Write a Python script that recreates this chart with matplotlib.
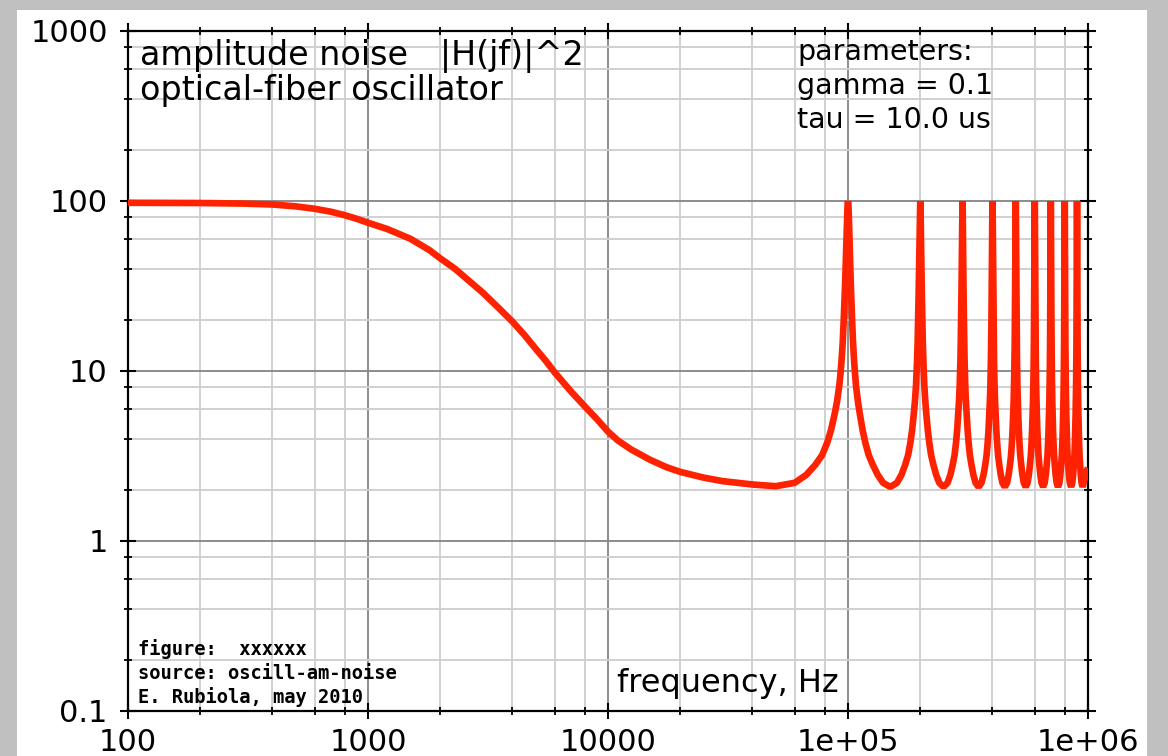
import matplotlib
matplotlib.use("Agg")
import matplotlib.pyplot as plt
from matplotlib.patches import Rectangle
from matplotlib.ticker import FixedLocator, FixedFormatter, LogLocator, NullFormatter

# ---- data ----
LF_FREQ = [100, 200, 300, 400, 500, 600, 700, 800, 900, 1000, 1200, 1500, 1800,
           2000, 2300, 2600, 3000, 3500, 4000, 4500, 5000, 5500, 6000, 7000,
           8000, 9000, 10000, 11000, 12500, 15000, 17500, 20000, 25000, 30000,
           40000, 50000]
LF_VALUE = [97.6, 97.3, 96.6, 95.4, 93.0, 90.0, 86.5, 82.5, 78.5, 74.5, 68.5,
            60.0, 51.5, 46.0, 40.0, 34.5, 29.0, 23.5, 19.5, 16.2, 13.5, 11.5,
            9.8, 7.6, 6.2, 5.2, 4.4, 3.9, 3.45, 3.0, 2.72, 2.55, 2.36, 2.25,
            2.15, 2.1]

PEAK_CENTERS = [1e5, 2e5, 3e5, 4e5, 5e5, 6e5, 7e5, 8e5, 9e5]
PEAK_OFFSET_HZ = [0, 500, 1000, 1500, 2000, 2500, 3000, 4000, 5000, 6000, 7000,
                  8000, 10000, 12000, 15000, 18000, 22000, 27000, 33000, 40000,
                  50000]
PEAK_VALUE = [100, 92, 75, 58, 45, 36, 29, 20, 14.5, 11.5, 9.6, 8.2, 6.6, 5.6,
              4.5, 3.8, 3.2, 2.8, 2.45, 2.2, 2.08]

TAIL_FREQ = [960000, 975000, 990000, 1000000]
TAIL_VALUE = [2.2, 2.4, 2.6, 2.7]

X_TICKS = [100, 1000, 10000, 1e5, 1e6]
X_LABELS = ["100", "1000", "10000", "1e+05", "1e+06"]
Y_TICKS = [0.1, 1, 10, 100, 1000]
Y_LABELS = ["0.1", "1", "10", "100", "1000"]

TITLE_LINES = ["amplitude noise   |H(jf)|^2", "optical-fiber oscillator"]
PARAM_LINES = ["parameters:", "gamma = 0.1", "tau = 10.0 us"]
CREDIT_LINES = ["figure:  xxxxxx", "source: oscill-am-noise", "E. Rubiola, may 2010"]
XLABEL = "frequency, Hz"

# ---- assemble the curve from the read values ----
freq = list(LF_FREQ)
val = list(LF_VALUE)
for c in PEAK_CENTERS:
    for off, v in zip(reversed(PEAK_OFFSET_HZ[1:-1]), reversed(PEAK_VALUE[1:-1])):
        freq.append(c - off); val.append(v)
    for off, v in zip(PEAK_OFFSET_HZ, PEAK_VALUE):
        freq.append(c + off); val.append(v)
freq += TAIL_FREQ
val += TAIL_VALUE

W, H = 1168, 756
fig = plt.figure(figsize=(W / 100, H / 100), dpi=100, facecolor="#c0c0c0")
fig.add_artist(Rectangle((17 / W, 0), 1130 / W, 746 / H, transform=fig.transFigure,
                         facecolor="white", edgecolor="none", zorder=-10))

ax = fig.add_axes([128 / W, 1 - 711 / H, 960 / W, 680 / H])
ax.set_facecolor("white")
ax.set_xscale("log")
ax.set_yscale("log")
ax.set_xlim(100, 1e6)
ax.set_ylim(0.1, 1000)

ax.plot(freq, val, color="#ff2200", lw=4.8, solid_joinstyle="bevel",
        solid_capstyle="butt", zorder=3)

ax.xaxis.set_major_locator(FixedLocator(X_TICKS))
ax.xaxis.set_major_formatter(FixedFormatter(X_LABELS))
ax.yaxis.set_major_locator(FixedLocator(Y_TICKS))
ax.yaxis.set_major_formatter(FixedFormatter(Y_LABELS))
for a in (ax.xaxis, ax.yaxis):
    a.set_minor_locator(LogLocator(base=10, subs=[2, 4, 6, 8], numticks=20))
    a.set_minor_formatter(NullFormatter())

ax.set_axisbelow(True)
ax.grid(which="major", color="#8c8c8c", lw=1.4)
ax.grid(which="minor", color="#d0d0d0", lw=1.4)

for s in ax.spines.values():
    s.set_linewidth(1.6)
    s.set_color("black")

ax.tick_params(which="both", top=True, right=True, direction="inout", colors="black")
ax.tick_params(which="major", length=11, width=1.5, labelsize=22)
ax.tick_params(axis="x", which="major", pad=7)
ax.tick_params(axis="y", which="major", pad=9)
ax.tick_params(which="minor", length=6, width=1.3)

def ftext(x, y, s, **kw):
    fig.text(x / W, 1 - y / H, s, va="baseline", ha="left", color="black", **kw)

for i, line in enumerate(TITLE_LINES):
    ftext(140, 65 + 35 * i, line, fontsize=24)
for i, line in enumerate(PARAM_LINES):
    ftext(797, 60 + 34 * i, line, fontsize=20.5)
for i, line in enumerate(CREDIT_LINES):
    ftext(138, 655 + 24 * i, line, fontsize=13.5, family="DejaVu Sans Mono",
          fontweight="bold")
ftext(617, 692, XLABEL, fontsize=23)

fig.savefig("out.png", dpi=100, facecolor=fig.get_facecolor())
